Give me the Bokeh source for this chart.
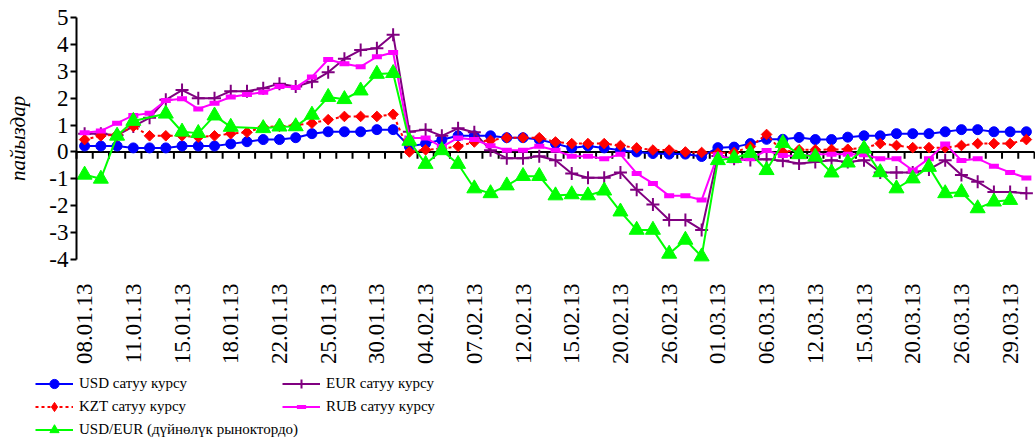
import math
import numpy as np
from bokeh.plotting import figure
from bokeh.models import Range1d, FixedTicker, Legend, LegendItem
from bokeh.embed import file_html
from bokeh.resources import INLINE

nan = float("nan")

tick_labels = ["08.01.13", "11.01.13", "15.01.13", "18.01.13", "22.01.13", "25.01.13",
               "30.01.13", "04.02.13", "07.02.13", "12.02.13", "15.02.13", "20.02.13",
               "26.02.13", "01.03.13", "06.03.13", "12.03.13", "15.03.13", "20.03.13",
               "26.03.13", "29.03.13"]

usd = [0.22, 0.22, 0.22, 0.15, 0.15, 0.15, 0.22, 0.22, 0.22, 0.30,
       0.38, 0.46, 0.46, 0.53, 0.68, 0.75, 0.75, 0.75, 0.83, 0.83,
       0.20, 0.31, 0.45, 0.60, 0.60, 0.60, 0.53, 0.53, 0.46, 0.31,
       0.15, 0.22, 0.15, 0.06, 0.00, -0.06, -0.08, -0.08, -0.17, 0.16,
       0.18, 0.31, 0.47, 0.47, 0.54, 0.46, 0.46, 0.55, 0.60, 0.60,
       0.68, 0.68, 0.68, 0.75, 0.83, 0.83, 0.75, 0.75, 0.75]

eur = [0.68, 0.68, 0.62, 0.95, 1.27, 1.94, 2.30, 2.00, 2.00, 2.26,
       2.26, 2.37, 2.54, 2.43, 2.61, 2.96, 3.47, 3.79, 3.86, 4.36,
       0.75, 0.83, 0.60, 0.88, 0.73, 0.06, -0.23, -0.23, -0.16, -0.31,
       -0.80, -0.96, -0.96, -0.76, -1.41, -1.95, -2.53, -2.53, -2.90, -0.15,
       -0.25, -0.30, -0.27, -0.33, -0.43, -0.37, -0.31, -0.37, -0.31, -0.76,
       -0.76, -0.76, -0.65, -0.31, -0.86, -1.11, -1.49, -1.49, -1.54]

kzt = [0.46, 0.60, 0.65, 0.95, 0.60, 0.60, 0.60, 0.55, 0.60, 0.68,
       0.73, 0.93, 0.95, 1.00, 1.07, 1.20, 1.32, 1.32, 1.32, 1.40,
       0.00, 0.08, 0.12, 0.21, 0.37, 0.43, 0.53, 0.53, 0.53, 0.37,
       0.31, 0.31, 0.31, 0.24, 0.15, 0.07, 0.07, 0.00, -0.02, -0.04,
       -0.02, 0.20, 0.65, 0.00, 0.08, 0.08, 0.09, 0.10, 0.15, 0.31,
       0.24, 0.16, 0.16, 0.16, 0.24, 0.31, 0.31, 0.31, 0.46]

rub = [0.71, 0.78, 1.07, 1.36, 1.44, 1.91, 1.98, 1.60, 1.81, 2.04,
       2.14, 2.22, 2.43, 2.40, 2.79, 3.44, 3.28, 3.17, 3.54, 3.70,
       0.52, 0.52, 0.19, 0.52, 0.46, 0.23, 0.06, 0.06, 0.21, 0.06,
       -0.16, -0.16, -0.25, -0.09, -0.80, -1.17, -1.63, -1.63, -1.79, -0.10,
       -0.33, -0.25, 0.05, -0.13, -0.16, -0.09, -0.09, -0.09, -0.10, -0.25,
       -0.25, -0.68, -0.25, 0.30, -0.32, -0.25, -0.53, -0.76, -0.97]

usdeur = [-0.85, -1.00, 0.60, 1.15, nan, 1.42, 0.75, 0.70, 1.35, 0.93,
          nan, 0.88, 0.94, 0.95, 1.38, 2.04, 1.96, 2.28, 2.90, 2.93,
          0.41, -0.45, 0.06, -0.45, -1.36, -1.54, -1.25, -0.90, -0.90, -1.62,
          -1.58, -1.62, -1.44, -2.22, -2.90, -2.90, -3.79, -3.27, -3.89, -0.31,
          -0.23, -0.04, -0.68, 0.33, -0.09, -0.18, -0.77, -0.40, 0.12, -0.76,
          -1.36, -0.99, -0.56, -1.54, -1.50, -2.10, -1.85, -1.79, nan]

series_names = ["USD сатуу курсу", "EUR сатуу курсу", "KZT сатуу курсу",
                "RUB сатуу курсу", "USD/EUR (дүйнөлүк рыноктордо)"]

n = len(usd)
x = list(range(n))
FONT = "Liberation Serif"

# page geometry (pixels) of the plotting area
W, H = 1035, 446
LEFT, RIGHT, TOP, BOTTOM = 76, 1034, 17, 259
Y0, Y1 = -4, 5
X0, X1 = -0.5, n - 0.5
xpx = (RIGHT - LEFT) / (X1 - X0)
ypx = (BOTTOM - TOP) / (Y1 - Y0)
x_range = Range1d(X0 - LEFT / xpx, X1 + (W - RIGHT) / xpx)
y_range = Range1d(Y0 - (H - BOTTOM) / ypx, Y1 + TOP / ypx)

p = figure(width=W, height=H, output_backend="svg", toolbar_location=None,
           x_range=x_range, y_range=y_range,
           min_border_left=0, min_border_right=0, min_border_top=0, min_border_bottom=0)
p.extra_y_ranges = {"legend_only": Range1d(1000, 1001)}
p.outline_line_color = None
p.xgrid.visible = False
p.ygrid.visible = False
p.background_fill_color = "white"
p.border_fill_color = "white"

ya = p.yaxis[0]
ya.fixed_location = X0
ya.bounds = (Y0, Y1)
ya.ticker = FixedTicker(ticks=list(range(Y0, Y1 + 1)))
ya.major_label_overrides = {v: str(v) for v in range(Y0, Y1 + 1)}
ya.axis_line_width = 2
ya.axis_line_color = "black"
ya.major_tick_in = 0
ya.major_tick_out = 6
ya.major_tick_line_width = 2
ya.minor_tick_line_color = None
ya.major_label_text_font = FONT
ya.major_label_text_font_size = "23px"
ya.major_label_text_color = "black"
ya.major_label_standoff = 2
ya.axis_label = "пайыздар"
ya.axis_label_text_font = FONT
ya.axis_label_text_font_style = "italic"
ya.axis_label_text_font_size = "21px"
ya.axis_label_text_color = "black"
ya.axis_label_standoff = 16

xa = p.xaxis[0]
xa.fixed_location = Y0
xa.bounds = (X0, X1)
xa.ticker = FixedTicker(ticks=list(range(0, n, 3)))
xa.major_label_overrides = {i * 3: lab for i, lab in enumerate(tick_labels)}
xa.major_label_orientation = math.pi / 2
xa.axis_line_color = None
xa.major_tick_line_color = None
xa.minor_tick_line_color = None
xa.major_label_standoff = 18
xa.major_label_text_font = FONT
xa.major_label_text_font_size = "23px"
xa.major_label_text_color = "black"

# zero line with category-boundary tick marks
bounds = np.arange(n + 1) - 0.5
p.segment(x0=[X0], y0=[0], x1=[X1], y1=[0], line_color="black", line_width=2)
p.segment(x0=bounds, y0=0, x1=bounds, y1=-0.25, line_color="black", line_width=2)

gx = [i for i, v in enumerate(usdeur) if not math.isnan(v)]
gy = [v for v in usdeur if not math.isnan(v)]

BLUE, PURPLE, RED, MAGENTA, GREEN = "#0000FF", "#800080", "#FF0000", "#FF00FF", "#00FF00"

l_usd = p.line(x, usd, line_color=BLUE, line_width=2)
p.scatter(x, usd, marker="circle", size=10, fill_color=BLUE, line_color=BLUE)
l_eur = p.line(x, eur, line_color=PURPLE, line_width=2)
p.scatter(x, eur, marker="cross", size=13, line_color=PURPLE, line_width=2)
l_kzt = p.line(x, kzt, line_color=RED, line_width=2, line_dash="3 3")
p.scatter(x, kzt, marker="square", angle=math.pi / 4, size=7.5, fill_color=RED, line_color=RED)
l_rub = p.line(x, rub, line_color=MAGENTA, line_width=2)
p.scatter(x, rub, marker="dash", size=10, line_color=MAGENTA, line_width=5)
l_ue = p.line(gx, gy, line_color=GREEN, line_width=2)
p.scatter(gx, gy, marker="triangle", size=15, fill_color=GREEN, line_color=GREEN)

# legend-only marker swatches (mapped off-screen)
OFF = dict(y_range_name="legend_only")
m_usd = p.scatter(x, usd, marker="circle", size=7, fill_color=BLUE, line_color=BLUE, **OFF)
m_eur = p.scatter(x, eur, marker="cross", size=10, line_color=PURPLE, line_width=2, **OFF)
m_kzt = p.scatter(x, kzt, marker="diamond", size=11, fill_color=RED, line_color=RED, **OFF)
m_rub = p.scatter(x, rub, marker="dash", size=7, line_color=MAGENTA, line_width=4, **OFF)
m_ue = p.scatter(gx, gy, marker="triangle", size=11, fill_color=GREEN, line_color=GREEN, **OFF)


def make_legend(items, loc):
    lg = Legend(items=items, location=loc)
    lg.border_line_color = None
    lg.background_fill_alpha = 0
    lg.padding = 0
    lg.margin = 0
    lg.spacing = 0
    lg.glyph_width = 38
    lg.glyph_height = 23
    lg.label_height = 23
    lg.label_standoff = 6
    lg.label_text_font = FONT
    lg.label_text_font_size = "15px"
    lg.label_text_color = "black"
    return lg


LEG_TOP = 372
leg1 = make_legend([
    LegendItem(label=series_names[0], renderers=[l_usd, m_usd]),
    LegendItem(label=series_names[2], renderers=[l_kzt, m_kzt]),
    LegendItem(label=series_names[4], renderers=[l_ue, m_ue]),
], (35, H - LEG_TOP - 3 * 23))
leg2 = make_legend([
    LegendItem(label=series_names[1], renderers=[l_eur, m_eur]),
    LegendItem(label=series_names[3], renderers=[l_rub, m_rub]),
], (282, H - LEG_TOP - 2 * 23))
p.add_layout(leg1)
p.add_layout(leg2)

open("out.html", "w").write(file_html(p, INLINE))
